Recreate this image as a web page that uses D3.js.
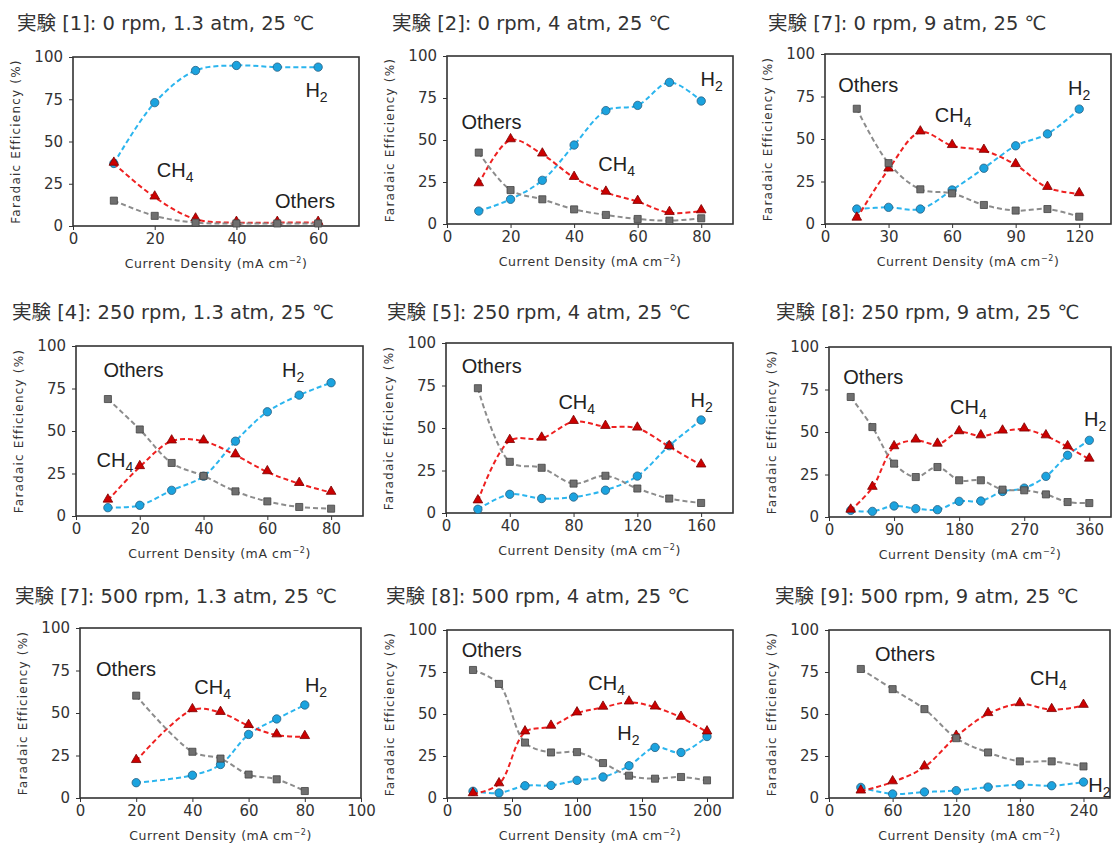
<!DOCTYPE html>
<html>
<head>
<meta charset="utf-8">
<script src="https://cdn.jsdelivr.net/npm/d3@7"></script>
<style>
  body { margin: 0; background: #fff; }
  .tick text { font-family: "DejaVu Sans", sans-serif; font-size: 15px; fill: #333; }
  .tick line { stroke: #333; }
  .title { font-family: "DejaVu Sans", "Noto Sans CJK JP", sans-serif; font-size: 19.5px; fill: #333; }
  .axis-title { font-family: "DejaVu Sans", sans-serif; fill: #333; }
  .series-label { font-family: "Liberation Sans", Arial, sans-serif; font-size: 20px; fill: #222; }
</style>
</head>
<body>
<svg width="1112" height="847"></svg>
<script>
// data
var panelTitles = [
  "実験 [1]: 0 rpm, 1.3 atm, 25 ℃",
  "実験 [2]: 0 rpm, 4 atm, 25 ℃",
  "実験 [7]: 0 rpm, 9 atm, 25 ℃",
  "実験 [4]: 250 rpm, 1.3 atm, 25 ℃",
  "実験 [5]: 250 rpm, 4 atm, 25 ℃",
  "実験 [8]: 250 rpm, 9 atm, 25 ℃",
  "実験 [7]: 500 rpm, 1.3 atm, 25 ℃",
  "実験 [8]: 500 rpm, 4 atm, 25 ℃",
  "実験 [9]: 500 rpm, 9 atm, 25 ℃"
];

var currentDensity = [
  [10, 20, 30, 40, 50, 60],
  [10, 20, 30, 40, 50, 60, 70, 80],
  [15, 30, 45, 60, 75, 90, 105, 120],
  [10, 20, 30, 40, 50, 60, 70, 80],
  [20, 40, 60, 80, 100, 120, 140, 160],
  [30, 60, 90, 120, 150, 180, 210, 240, 270, 300, 330, 360],
  [20, 40, 50, 60, 70, 80],
  [20, 40, 60, 80, 100, 120, 140, 160, 180, 200],
  [30, 60, 90, 120, 150, 180, 210, 240]
];

var h2Values = [
  [37, 73, 92, 95, 94, 94],
  [7.7, 14.7, 26, 47, 67.5, 70.6, 84.3, 73.2],
  [8.8, 9.8, 8.8, 20, 32.8, 46, 53, 67.6],
  [4.9, 6.3, 15.1, 23.4, 44, 61.3, 71.1, 78.4],
  [2.2, 11, 8.5, 9.4, 13.4, 21.7, 39.6, 54.7],
  [3.9, 3.3, 6.5, 4.9, 4.3, 9.2, 9.4, 15, 17, 23.9, 36.3, 45.1],
  [9, 13.4, 19.7, 37.4, 46.5, 54.7],
  [4, 3, 7.3, 7.5, 10.5, 12.5, 19.2, 30.1, 27.1, 36.6],
  [6.3, 2.4, 3.6, 4.4, 6.5, 7.9, 7.3, 9.5]
];

var ch4Values = [
  [37, 17, 4, 2, 2, 2],
  [23.8, 50, 41.5, 27.6, 18.8, 13.3, 6.7, 7.7],
  [3.3, 32.2, 54, 46, 43.2, 34.8, 21.4, 17.7],
  [9.2, 28.9, 44, 44, 35.8, 25.9, 19, 13.8],
  [7, 42.5, 43.9, 53.7, 50.8, 49.8, 39, 28.1],
  [3.9, 17.3, 41.2, 45.1, 42.7, 50, 47.6, 50.4, 51.6, 47.6, 41.2, 33.9],
  [21.9, 51.8, 50.2, 42.5, 37, 36],
  [2.4, 8.3, 39.2, 42.6, 50.5, 53.9, 57, 54, 47.9, 39.2],
  [4, 9.5, 18.4, 36.6, 50.1, 56, 52.5, 55]
];

var othersValues = [
  [15, 6, 2, 1.5, 1.5, 1.5],
  [42.5, 20.2, 14.7, 8.7, 5.4, 3, 2, 3.4],
  [67.8, 35.8, 20.4, 18, 11.2, 7.9, 8.8, 4.3],
  [68.8, 50.9, 31.2, 23.6, 14.5, 8.6, 5.3, 4.3],
  [73.4, 30.1, 26.6, 17.3, 21.9, 14.4, 8.5, 5.9],
  [70.6, 52.9, 31.4, 23.5, 29.4, 21.6, 21.6, 16.1, 15.7, 13.3, 8.8, 8.2],
  [60.2, 27.2, 23.2, 13.8, 11, 4.1],
  [76.2, 67.9, 33, 27.1, 27.3, 20.8, 13.3, 11.5, 12.5, 10.5],
  [76.8, 64.8, 52.9, 35.6, 27.1, 21.8, 21.8, 18.8]
];

var xTicks = [
  [0, 20, 40, 60],
  [0, 20, 40, 60, 80],
  [0, 30, 60, 90, 120],
  [0, 20, 40, 60, 80],
  [0, 40, 80, 120, 160],
  [0, 90, 180, 270, 360],
  [0, 20, 40, 60, 80, 100],
  [0, 50, 100, 150, 200],
  [0, 60, 120, 180, 240]
];
var yTicks = [0, 25, 50, 75, 100];

var seriesNames = ["H2", "CH4", "Others"];

// layout: plot frame [left, top, right, bottom], x max, title origin
var frames = [
  [73, 57, 359, 226], [447, 56, 733, 224], [825, 54, 1111, 224],
  [76, 346, 363, 516], [446, 343, 733, 513], [829, 347, 1111, 517],
  [80, 628, 361, 798], [447, 630, 733, 798], [829, 630, 1110, 798]
];
var xMax = [70, 90, 135, 90, 180, 390, 100, 220, 265];
var titlePos = [
  [17, 30], [392, 30], [768, 30],
  [12, 319], [387, 319], [776, 319],
  [15, 603], [386, 603], [775, 603]
];
// label centres in data units: H2, CH4, Others
var labelPos = [
  [[59.6, 80.3], [25, 33], [56.8, 15.2]],
  [[83.3, 86.7], [53.4, 36], [14, 61]],
  [[120, 80], [60.5, 64.2], [20.4, 82]],
  [[68.1, 86], [12.2, 32.8], [18, 85.9]],
  [[160.4, 66.5], [82, 65.6], [28.7, 86.6]],
  [[368, 57.5], [192.7, 65.1], [61.3, 82.4]],
  [[84, 66.5], [47.2, 65.2], [16.4, 75.8]],
  [[139.5, 38.6], [122.8, 68.3], [34.4, 88.1]],
  [[255, 7.7], [206.9, 71.3], [71.7, 86.1]]
];

var lineColor = {H2: "#2bb5ee", CH4: "#ee2020", Others: "#8c8c8c"};
var markFill = {H2: "#1ba3df", CH4: "#cc0000", Others: "#6f6f6f"};
var markStroke = {H2: "#2a5f80", CH4: "#7a0000", Others: "#444"};

var svg = d3.select("svg");

var line = d3.line()
    .curve(d3.curveCatmullRom.alpha(0.5))
    .x(function(d) { return d.sx; })
    .y(function(d) { return d.sy; });

panelTitles.forEach(function(title, p) {
  var f = frames[p];
  var x = d3.scaleLinear().domain([0, xMax[p]]).range([f[0], f[2]]);
  var y = d3.scaleLinear().domain([0, 100]).range([f[3], f[1]]);
  var g = svg.append("g").attr("class", "panel");

  g.append("text")
      .attr("class", "title")
      .attr("x", titlePos[p][0])
      .attr("y", titlePos[p][1])
      .text(title);

  g.append("g")
      .attr("class", "axis axis--x")
      .attr("transform", "translate(0," + f[3] + ")")
      .call(d3.axisBottom(x).tickValues(xTicks[p]).tickSize(4).tickPadding(3))
      .call(function(a) { a.select(".domain").remove(); });

  g.append("g")
      .attr("class", "axis axis--y")
      .attr("transform", "translate(" + f[0] + ",0)")
      .call(d3.axisLeft(y).tickValues(yTicks).tickSize(4).tickPadding(6))
      .call(function(a) { a.select(".domain").remove(); });

  g.append("rect")
      .attr("x", f[0])
      .attr("y", f[1])
      .attr("width", f[2] - f[0])
      .attr("height", f[3] - f[1])
      .attr("fill", "none")
      .attr("stroke", "#333")
      .attr("stroke-width", 1.6);

  g.append("text")
      .attr("class", "axis-title")
      .attr("x", (f[0] + f[2]) / 2)
      .attr("y", f[3] + 42)
      .attr("text-anchor", "middle")
      .style("font-size", "12.5px")
      .style("letter-spacing", "0.6px")
      .text("Current Density (mA cm")
    .append("tspan")
      .attr("dy", -5)
      .style("font-size", "8px")
      .text("−2")
    .select(function() { return this.parentNode; })
    .append("tspan")
      .attr("dy", 5)
      .text(")");

  g.append("text")
      .attr("class", "axis-title")
      .attr("transform", "translate(" + (f[0] - 53) + "," + ((f[1] + f[3]) / 2) + ") rotate(-90)")
      .attr("text-anchor", "middle")
      .style("font-size", "12px")
      .style("letter-spacing", "1.2px")
      .text("Faradaic Efficiency (%)");

  var series = [h2Values[p], ch4Values[p], othersValues[p]].map(function(vals, s) {
    return {
      id: seriesNames[s],
      values: vals.map(function(v, i) {
        var cd = currentDensity[p][i];
        return {cd: cd, fe: v, sx: x(cd), sy: y(v)};
      })
    };
  });

  var sg = g.selectAll(".series")
    .data(series)
    .enter().append("g")
      .attr("class", "series");

  sg.append("path")
      .attr("d", function(d) { return line(d.values); })
      .attr("fill", "none")
      .attr("stroke", function(d) { return lineColor[d.id]; })
      .attr("stroke-width", 2)
      .attr("stroke-dasharray", "5,3");

  sg.each(function(d) {
    var sel = d3.select(this).selectAll(".mark")
      .data(d.values)
      .enter();
    var sym = d.id === "H2" ? d3.symbolCircle : d.id === "CH4" ? d3.symbolTriangle : d3.symbolSquare;
    var size = d.id === "H2" ? 55 : d.id === "CH4" ? 40 : 50;
    sel.append("path")
        .attr("class", "mark")
        .attr("transform", function(v) { return "translate(" + v.sx + "," + (v.sy - (d.id === "CH4" ? 1 : 0)) + ")"; })
        .attr("d", d3.symbol().type(sym).size(size))
        .attr("fill", markFill[d.id])
        .attr("stroke", markStroke[d.id])
        .attr("stroke-width", 0.8);
  });

  // series labels
  seriesNames.forEach(function(name, s) {
    var lp = labelPos[p][s];
    var t = g.append("text")
        .attr("class", "series-label")
        .attr("x", x(lp[0]))
        .attr("y", y(lp[1]))
        .attr("dy", "0.36em")
        .attr("text-anchor", "middle");
    if (name === "Others") {
      t.text("Others");
    } else {
      t.append("tspan").text(name.slice(0, -1));
      t.append("tspan")
          .attr("dy", 5)
          .style("font-size", "14px")
          .text(name.slice(-1));
    }
  });
});
</script>
</body>
</html>
